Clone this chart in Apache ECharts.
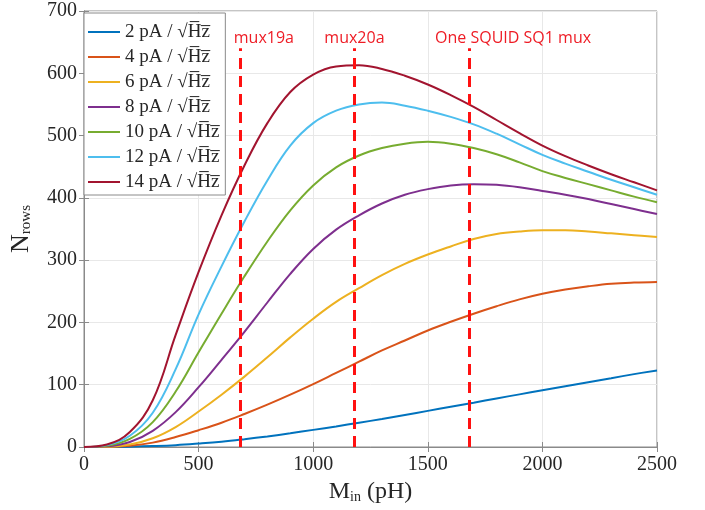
<!DOCTYPE html>
<html><head><meta charset="utf-8">
<script src="https://cdn.jsdelivr.net/npm/echarts@6/dist/echarts.min.js"></script>
<style>html,body{margin:0;padding:0;background:#fff}#c{width:705px;height:510px}</style>
</head><body><div id="c"></div>
<script>
// ---- data ----
const minPH    = [0,100,200,300,400,500,600,700,800,900,1000,1100,1200,1300,1400,1500,1600,1700,1800,1900,2000,2100,2200,2300,2400,2500];
const rows2pA  = [0,0.1,0.5,1.5,3,5.5,8.5,12.5,17,22,27.5,33,39,45,51.5,58,64.5,71,78,84.5,91,97.5,104,110.5,117,123];
const rows4pA  = [0,0.3,2,7,16,27,39,53,68,84,101,119,137,155,171,187,201,214,226,237,246,253,258,262,264,265];
const rows6pA  = [0,0.5,4,14,32,57,84,113,144,176,206,233,255,276,294,309,322,334,342,346,348,348,346,343,340,337];
const rows8pA  = [0,1,8,26,56,96,140,185,232,278,318,349,372,391,405,414,420,422,421,417,411,405,398,390,382,374];
const rows10pA = [0,2,13,40,89,152,214,274,330,380,420,449,468,480,487,490,487,480,470,457,443,432,422,412,402,393];
const rows12pA = [0,3,18,55,125,213,290,362,428,484,520,540,550,553,548,540,530,518,503,486,469,455,442,429,417,405];
const rows14pA = [0,4,24,75,180,281,372,452,520,570,598,611,613,607,596,582,565,546,525,504,484,467,452,438,425,412];
const seriesNames = ['2 pA / \u221AH\u0305z\u0305','4 pA / \u221AH\u0305z\u0305','6 pA / \u221AH\u0305z\u0305','8 pA / \u221AH\u0305z\u0305','10 pA / \u221AH\u0305z\u0305','12 pA / \u221AH\u0305z\u0305','14 pA / \u221AH\u0305z\u0305'];
const seriesValues = [rows2pA, rows4pA, rows6pA, rows8pA, rows10pA, rows12pA, rows14pA];
const markerX = [680, 1180, 1680];
const markerTop = 640;
const markerLabels = ['mux19a', 'mux20a', 'One SQUID SQ1 mux'];
const xTicks = {min: 0, max: 2500, interval: 500};
const yTicks = {min: 0, max: 700, interval: 100};

// ---- styling ----
const colors = ['#0072BD','#D95319','#EDB120','#7E2F8E','#77AC30','#4DBEEE','#A2142F'];
const labelOffsets = [[24,0],[0,0],[44,0]];
const serif = 'Liberation Serif';
const axisGray = '#8a8a8a';
const textGray = '#262626';

const chart = echarts.init(document.getElementById('c'), null, {renderer:'canvas'});

const lineSeries = seriesNames.map((n, i) => ({
  name: n, type: 'line', symbol: 'none', smooth: 0.4,
  data: minPH.map((x, k) => [x, seriesValues[i][k]]),
  lineStyle: {width: 2, color: colors[i]}, itemStyle: {color: colors[i]},
  z: 3
}));

const markSeries = {
  name: 'markers', type: 'line', data: [], symbol: 'none', silent: true, z: 4,
  markLine: {
    symbol: ['none','none'], silent: true, animation: false,
    lineStyle: {color: '#ff1111', width: 3, type: [11, 7]},
    data: markerX.map((x, i) => [
      {coord: [x, 0]},
      {coord: [x, markerTop],
       label: {show: true, position: 'end', formatter: markerLabels[i], color: '#ee1c25',
               fontFamily: 'Open Sans', fontSize: 16, distance: 2, offset: labelOffsets[i]}}
    ])
  }
};

const option = {
  animation: false,
  backgroundColor: '#fff',
  color: colors,
  grid: {left: 81, right: 48, top: 11, bottom: 63, containLabel: false,
         show: true, borderColor: axisGray, borderWidth: 1},
  legend: {
    data: seriesNames.map((n, i) => ({name: n, icon: 'rect', itemStyle: {color: colors[i]}})),
    orient: 'vertical', left: 84, top: 13,
    itemWidth: 32, itemHeight: 2, itemGap: 5, padding: [9, 6, 3, 4],
    backgroundColor: '#fff', borderColor: '#8a8a8a', borderWidth: 1,
    textStyle: {fontFamily: serif, fontSize: 19, color: textGray, lineHeight: 20},
    selectedMode: false
  },
  xAxis: [{
    type: 'value', ...xTicks, position: 'bottom',
    name: '{m|M}{s|in}{m| (pH)}', nameLocation: 'middle', nameGap: 30,
    nameTextStyle: {rich: {
      m: {fontFamily: serif, fontSize: 24, color: textGray, verticalAlign: 'bottom', lineHeight: 26},
      s: {fontFamily: serif, fontSize: 14, color: textGray, verticalAlign: 'bottom', lineHeight: 22}
    }},
    axisLine: {show: true, lineStyle: {color: axisGray}},
    axisTick: {show: true, inside: true, length: 5, lineStyle: {color: axisGray}},
    axisLabel: {fontFamily: serif, fontSize: 20, color: textGray, margin: 8, formatter: v => String(v)},
    splitLine: {show: true, lineStyle: {color: '#e8e8e8', width: 1}}
  }, {
    type: 'value', ...xTicks, position: 'top',
    axisLine: {show: true, lineStyle: {color: axisGray}},
    axisTick: {show: true, inside: true, length: 5, lineStyle: {color: axisGray}},
    axisLabel: {show: false}, splitLine: {show: false}
  }],
  yAxis: [{
    type: 'value', ...yTicks, position: 'left',
    name: '{m|N}{s|rows}', nameLocation: 'middle', nameGap: 50, nameRotate: 90,
    nameTextStyle: {rich: {
      m: {fontFamily: serif, fontSize: 26, color: textGray, verticalAlign: 'bottom', lineHeight: 28},
      s: {fontFamily: serif, fontSize: 15, color: textGray, verticalAlign: 'bottom', lineHeight: 22}
    }},
    axisLine: {show: true, lineStyle: {color: axisGray}},
    axisTick: {show: true, inside: true, length: 5, lineStyle: {color: axisGray}},
    axisLabel: {fontFamily: serif, fontSize: 20, color: textGray, margin: 7, formatter: v => String(v)},
    splitLine: {show: true, lineStyle: {color: '#e8e8e8', width: 1}}
  }, {
    type: 'value', ...yTicks, position: 'right',
    axisLine: {show: true, lineStyle: {color: axisGray}},
    axisTick: {show: true, inside: true, length: 5, lineStyle: {color: axisGray}},
    axisLabel: {show: false}, splitLine: {show: false}
  }],
  series: [...lineSeries, markSeries]
};
chart.setOption(option);
</script></body></html>
